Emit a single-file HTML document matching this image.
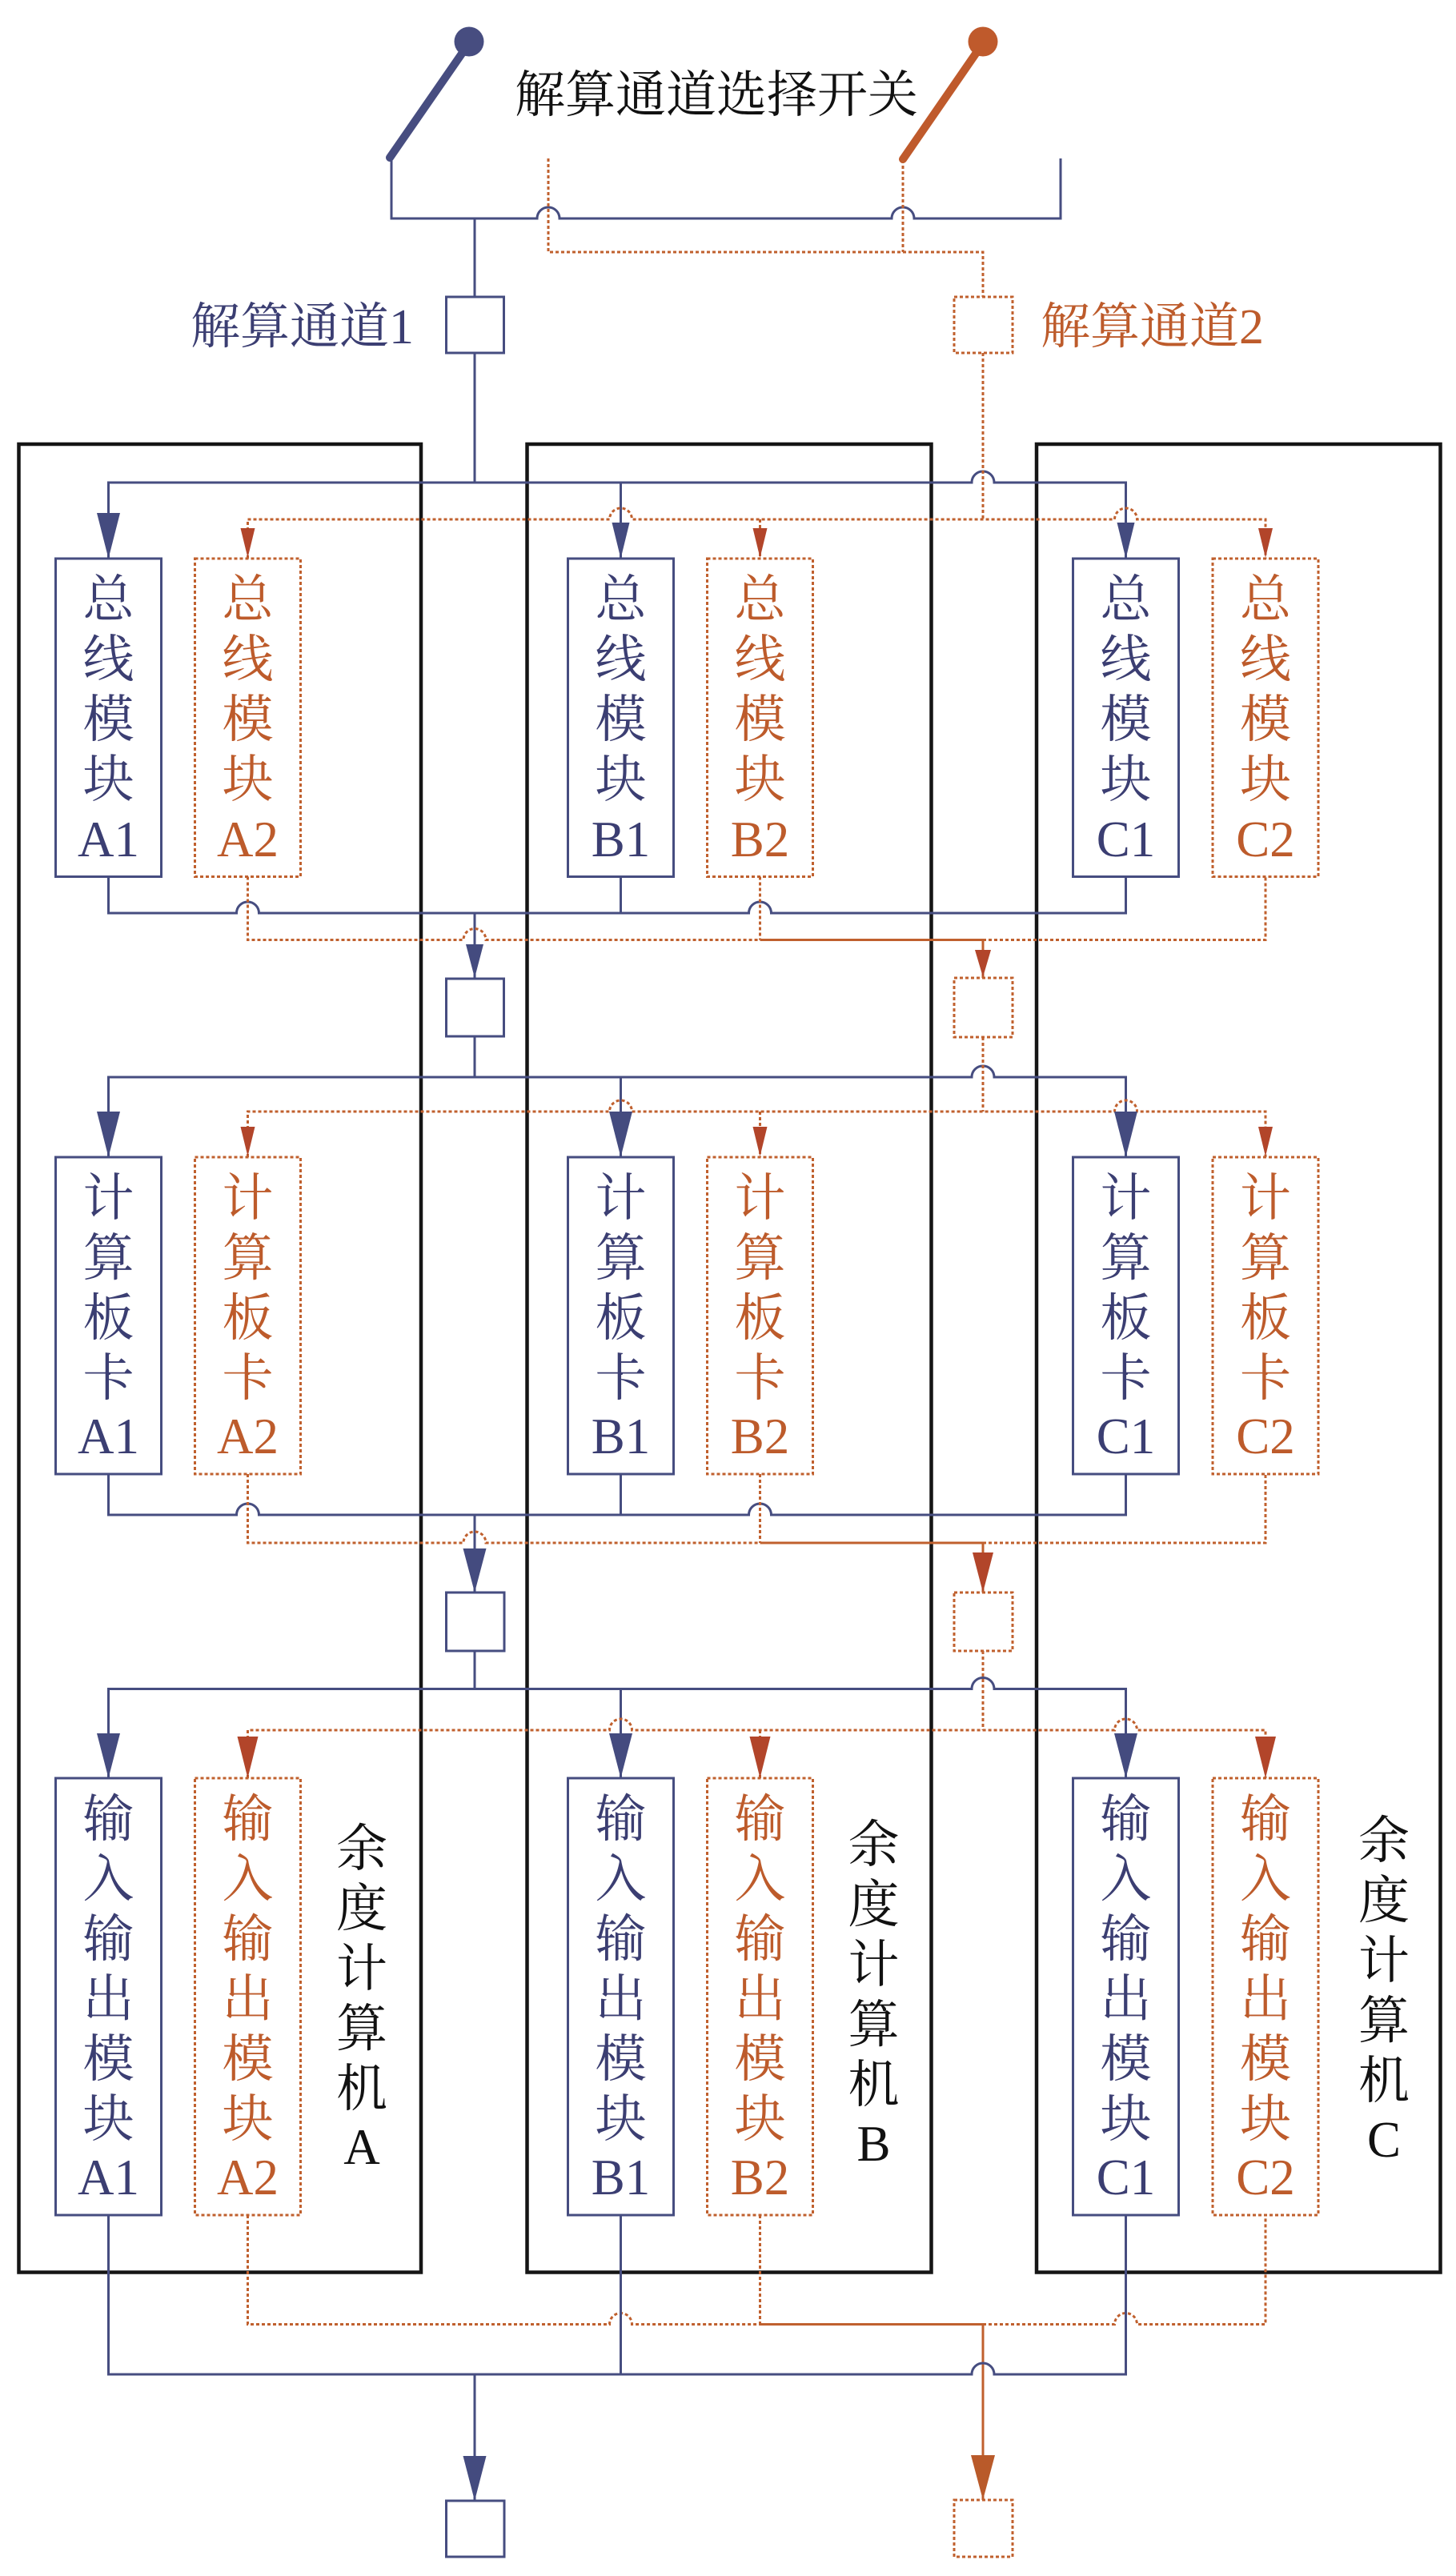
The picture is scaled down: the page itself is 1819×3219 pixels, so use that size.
<!DOCTYPE html>
<html><head><meta charset="utf-8"><style>
html,body{margin:0;padding:0;background:#fff;}
svg{display:block;}
.k{stroke:#151515;stroke-width:4.5;fill:none;}
.b{stroke:#464d80;stroke-width:3;fill:none;}
.o{stroke:#c0602e;stroke-width:3;fill:none;stroke-dasharray:4 3;}
.os{stroke:#c0602e;stroke-width:3;fill:none;}
.ab{fill:#444b7f;}
.ao{fill:#b2452a;}
.tb{fill:#3b3e72;}
.to{fill:#bd5b2b;}
.tk{fill:#111;}
text{font-family:"Liberation Serif","Noto Serif CJK SC",serif;}
.cj{font-size:64px;text-anchor:middle;}
.lt{font-size:63px;text-anchor:middle;}
</style></head><body>
<svg width="1819" height="3219" viewBox="0 0 1819 3219" xmlns="http://www.w3.org/2000/svg">
<rect x="0" y="0" width="1819" height="3219" fill="#fff"/>

<!-- outer computer boxes -->
<rect class="k" x="23.5" y="555" width="502.5" height="2284.5"/>
<rect class="k" x="658.5" y="555" width="505" height="2284.5"/>
<rect class="k" x="1295" y="555" width="504.5" height="2284.5"/>

<!-- switch -->
<line x1="487" y1="197" x2="586" y2="54" stroke="#474d80" stroke-width="10" stroke-linecap="round"/>
<circle cx="586" cy="52" r="18.5" fill="#474d80"/>
<line x1="1128" y1="199" x2="1228" y2="54" stroke="#bf5a2c" stroke-width="10" stroke-linecap="round"/>
<circle cx="1228" cy="52" r="18.5" fill="#bf5a2c"/>
<text x="643" y="140" style="font-size:63px" class="tk">解算通道选择开关</text>

<path class="b" d="M489 198 V273 H671 A14 14 0 0 1 699 273 H1114 A14 14 0 0 1 1142 273 H1325 V198"/>
<path class="o" d="M685 198 V315 H1228 V371"/>
<path class="o" d="M1128 200 V315"/>

<!-- channel 1/2 boxes -->
<path class="b" d="M593 273 V371"/>
<rect class="b" x="557.5" y="371" width="72" height="70"/>
<rect class="o" x="1192" y="371" width="73" height="70"/>
<text x="238" y="429" style="font-size:62px" class="tb">解算通道1</text>
<text x="1300" y="429" style="font-size:62px" class="to">解算通道2</text>

<!-- ROW 1 feeds -->
<path class="b" d="M593 441 V603"/>
<path class="b" d="M135.5 698 V603 H1214 A14 14 0 0 1 1242 603 H1406.5 V698"/>
<path class="b" d="M775.5 603 V698"/>
<path class="o" d="M1228 441 V649"/>
<path class="o" d="M309.5 698 V649 H761.5 A14 14 0 0 1 789.5 649 H1392.5 A14 14 0 0 1 1420.5 649 H1581 V698"/>
<path class="o" d="M949.5 649 V698"/>
<polygon class="ab" points="121,641 150,641 135.5,698"/>
<polygon class="ab" points="764.5,653 786.5,653 775.5,698"/>
<polygon class="ab" points="1395.5,653 1417.5,653 1406.5,698"/>
<polygon class="ao" points="300.5,660 318.5,660 309.5,697"/>
<polygon class="ao" points="940.5,660 958.5,660 949.5,697"/>
<polygon class="ao" points="1572,660 1590,660 1581,697"/>

<!-- ROW 1 boxes -->
<rect class="b" x="69.5" y="698" width="132" height="397.5"/>
<rect class="o" x="243.5" y="698" width="132" height="397.5"/>
<rect class="b" x="709.5" y="698" width="132" height="397.5"/>
<rect class="o" x="883.5" y="698" width="132" height="397.5"/>
<rect class="b" x="1340.5" y="698" width="132" height="397.5"/>
<rect class="o" x="1515" y="698" width="132" height="397.5"/>

<g class="tb">
<text class="cj" x="135.5" y="771">总</text><text class="cj" x="135.5" y="846">线</text><text class="cj" x="135.5" y="921">模</text><text class="cj" x="135.5" y="996">块</text><text class="lt" x="135.5" y="1070">A1</text>
<text class="cj" x="775.5" y="771">总</text><text class="cj" x="775.5" y="846">线</text><text class="cj" x="775.5" y="921">模</text><text class="cj" x="775.5" y="996">块</text><text class="lt" x="775.5" y="1070">B1</text>
<text class="cj" x="1406.5" y="771">总</text><text class="cj" x="1406.5" y="846">线</text><text class="cj" x="1406.5" y="921">模</text><text class="cj" x="1406.5" y="996">块</text><text class="lt" x="1406.5" y="1070">C1</text>
</g>
<g class="to">
<text class="cj" x="309.5" y="771">总</text><text class="cj" x="309.5" y="846">线</text><text class="cj" x="309.5" y="921">模</text><text class="cj" x="309.5" y="996">块</text><text class="lt" x="309.5" y="1070">A2</text>
<text class="cj" x="949.5" y="771">总</text><text class="cj" x="949.5" y="846">线</text><text class="cj" x="949.5" y="921">模</text><text class="cj" x="949.5" y="996">块</text><text class="lt" x="949.5" y="1070">B2</text>
<text class="cj" x="1581" y="771">总</text><text class="cj" x="1581" y="846">线</text><text class="cj" x="1581" y="921">模</text><text class="cj" x="1581" y="996">块</text><text class="lt" x="1581" y="1070">C2</text>
</g>

<!-- ROW 1 outputs -->
<path class="b" d="M135.5 1095.5 V1141 H295.5 A14 14 0 0 1 323.5 1141 H935.5 A14 14 0 0 1 963.5 1141 H1406.5 V1095.5"/>
<path class="b" d="M775.5 1095.5 V1141"/>
<path class="b" d="M593 1141 V1222"/>
<polygon class="ab" points="582,1180 604,1180 593,1222"/>
<rect class="b" x="557.5" y="1223" width="72" height="72"/>
<path class="o" d="M309.5 1095.5 V1174.5 H579 A14 14 0 0 1 607 1174.5 H949.5"/>
<path class="o" d="M949.5 1095.5 V1174.5"/>
<path class="o" d="M1228 1174.5 H1581 V1095.5"/>
<path class="os" d="M949.5 1174.5 H1228 V1222"/>
<polygon class="ao" points="1218,1187 1238,1187 1228,1221"/>
<rect class="o" x="1192" y="1222" width="73" height="74"/>

<!-- ROW 2 feeds -->
<path class="b" d="M593 1295 V1346"/>
<path class="b" d="M135.5 1446 V1346 H1214 A14 14 0 0 1 1242 1346 H1406.5 V1446"/>
<path class="b" d="M775.5 1346 V1446"/>
<path class="o" d="M1228 1296 V1389"/>
<path class="o" d="M309.5 1446 V1389 H761.5 A14 14 0 0 1 789.5 1389 H1392.5 A14 14 0 0 1 1420.5 1389 H1581 V1446"/>
<path class="o" d="M949.5 1389 V1446"/>
<polygon class="ab" points="121,1389 150,1389 135.5,1446"/>
<polygon class="ab" points="761,1389 790,1389 775.5,1446"/>
<polygon class="ab" points="1392,1389 1421,1389 1406.5,1446"/>
<polygon class="ao" points="300.5,1408 318.5,1408 309.5,1445"/>
<polygon class="ao" points="940.5,1408 958.5,1408 949.5,1445"/>
<polygon class="ao" points="1572,1408 1590,1408 1581,1445"/>

<!-- ROW 2 boxes -->
<rect class="b" x="69.5" y="1446" width="132" height="396"/>
<rect class="o" x="243.5" y="1446" width="132" height="396"/>
<rect class="b" x="709.5" y="1446" width="132" height="396"/>
<rect class="o" x="883.5" y="1446" width="132" height="396"/>
<rect class="b" x="1340.5" y="1446" width="132" height="396"/>
<rect class="o" x="1515" y="1446" width="132" height="396"/>

<g class="tb">
<text class="cj" x="135.5" y="1519">计</text><text class="cj" x="135.5" y="1594">算</text><text class="cj" x="135.5" y="1669">板</text><text class="cj" x="135.5" y="1744">卡</text><text class="lt" x="135.5" y="1816">A1</text>
<text class="cj" x="775.5" y="1519">计</text><text class="cj" x="775.5" y="1594">算</text><text class="cj" x="775.5" y="1669">板</text><text class="cj" x="775.5" y="1744">卡</text><text class="lt" x="775.5" y="1816">B1</text>
<text class="cj" x="1406.5" y="1519">计</text><text class="cj" x="1406.5" y="1594">算</text><text class="cj" x="1406.5" y="1669">板</text><text class="cj" x="1406.5" y="1744">卡</text><text class="lt" x="1406.5" y="1816">C1</text>
</g>
<g class="to">
<text class="cj" x="309.5" y="1519">计</text><text class="cj" x="309.5" y="1594">算</text><text class="cj" x="309.5" y="1669">板</text><text class="cj" x="309.5" y="1744">卡</text><text class="lt" x="309.5" y="1816">A2</text>
<text class="cj" x="949.5" y="1519">计</text><text class="cj" x="949.5" y="1594">算</text><text class="cj" x="949.5" y="1669">板</text><text class="cj" x="949.5" y="1744">卡</text><text class="lt" x="949.5" y="1816">B2</text>
<text class="cj" x="1581" y="1519">计</text><text class="cj" x="1581" y="1594">算</text><text class="cj" x="1581" y="1669">板</text><text class="cj" x="1581" y="1744">卡</text><text class="lt" x="1581" y="1816">C2</text>
</g>

<!-- ROW 2 outputs -->
<path class="b" d="M135.5 1842 V1893 H295.5 A14 14 0 0 1 323.5 1893 H935.5 A14 14 0 0 1 963.5 1893 H1406.5 V1842"/>
<path class="b" d="M775.5 1842 V1893"/>
<path class="b" d="M593 1893 V1990"/>
<polygon class="ab" points="578.5,1935 607.5,1935 593,1990"/>
<rect class="b" x="557.5" y="1990" width="72.5" height="73"/>
<path class="o" d="M309.5 1842 V1928 H579 A14 14 0 0 1 607 1928 H949.5"/>
<path class="o" d="M949.5 1842 V1928"/>
<path class="o" d="M1228 1928 H1581 V1842"/>
<path class="os" d="M949.5 1928 H1228 V1990"/>
<polygon class="ao" points="1215,1940 1241,1940 1228,1990"/>
<rect class="o" x="1192" y="1990" width="73" height="73"/>

<!-- ROW 3 feeds -->
<path class="b" d="M593 2063 V2110.5"/>
<path class="b" d="M135.5 2222 V2110.5 H1214 A14 14 0 0 1 1242 2110.5 H1406.5 V2222"/>
<path class="b" d="M775.5 2110.5 V2222"/>
<path class="o" d="M1228 2063 V2162"/>
<path class="o" d="M309.5 2222 V2162 H761.5 A14 14 0 0 1 789.5 2162 H1392.5 A14 14 0 0 1 1420.5 2162 H1581 V2222"/>
<path class="o" d="M949.5 2162 V2222"/>
<polygon class="ab" points="121,2166 150,2166 135.5,2222"/>
<polygon class="ab" points="761,2166 790,2166 775.5,2222"/>
<polygon class="ab" points="1392,2166 1421,2166 1406.5,2222"/>
<polygon class="ao" points="296.5,2170 322.5,2170 309.5,2222"/>
<polygon class="ao" points="936.5,2170 962.5,2170 949.5,2222"/>
<polygon class="ao" points="1568,2170 1594,2170 1581,2222"/>

<!-- ROW 3 boxes -->
<rect class="b" x="69.5" y="2222" width="132" height="546"/>
<rect class="o" x="243.5" y="2222" width="132" height="546"/>
<rect class="b" x="709.5" y="2222" width="132" height="546"/>
<rect class="o" x="883.5" y="2222" width="132" height="546"/>
<rect class="b" x="1340.5" y="2222" width="132" height="546"/>
<rect class="o" x="1515" y="2222" width="132" height="546"/>

<g class="tb">
<text class="cj" x="135.5" y="2295">输</text><text class="cj" x="135.5" y="2370">入</text><text class="cj" x="135.5" y="2445">输</text><text class="cj" x="135.5" y="2520">出</text><text class="cj" x="135.5" y="2595">模</text><text class="cj" x="135.5" y="2670">块</text><text class="lt" x="135.5" y="2742">A1</text>
<text class="cj" x="775.5" y="2295">输</text><text class="cj" x="775.5" y="2370">入</text><text class="cj" x="775.5" y="2445">输</text><text class="cj" x="775.5" y="2520">出</text><text class="cj" x="775.5" y="2595">模</text><text class="cj" x="775.5" y="2670">块</text><text class="lt" x="775.5" y="2742">B1</text>
<text class="cj" x="1406.5" y="2295">输</text><text class="cj" x="1406.5" y="2370">入</text><text class="cj" x="1406.5" y="2445">输</text><text class="cj" x="1406.5" y="2520">出</text><text class="cj" x="1406.5" y="2595">模</text><text class="cj" x="1406.5" y="2670">块</text><text class="lt" x="1406.5" y="2742">C1</text>
</g>
<g class="to">
<text class="cj" x="309.5" y="2295">输</text><text class="cj" x="309.5" y="2370">入</text><text class="cj" x="309.5" y="2445">输</text><text class="cj" x="309.5" y="2520">出</text><text class="cj" x="309.5" y="2595">模</text><text class="cj" x="309.5" y="2670">块</text><text class="lt" x="309.5" y="2742">A2</text>
<text class="cj" x="949.5" y="2295">输</text><text class="cj" x="949.5" y="2370">入</text><text class="cj" x="949.5" y="2445">输</text><text class="cj" x="949.5" y="2520">出</text><text class="cj" x="949.5" y="2595">模</text><text class="cj" x="949.5" y="2670">块</text><text class="lt" x="949.5" y="2742">B2</text>
<text class="cj" x="1581" y="2295">输</text><text class="cj" x="1581" y="2370">入</text><text class="cj" x="1581" y="2445">输</text><text class="cj" x="1581" y="2520">出</text><text class="cj" x="1581" y="2595">模</text><text class="cj" x="1581" y="2670">块</text><text class="lt" x="1581" y="2742">C2</text>
</g>

<!-- computer labels -->
<g class="tk">
<text class="cj" x="452" y="2332">余</text><text class="cj" x="452" y="2407">度</text><text class="cj" x="452" y="2482">计</text><text class="cj" x="452" y="2557">算</text><text class="cj" x="452" y="2632">机</text><text class="lt" x="452" y="2704">A</text>
<text class="cj" x="1091.5" y="2327">余</text><text class="cj" x="1091.5" y="2402">度</text><text class="cj" x="1091.5" y="2477">计</text><text class="cj" x="1091.5" y="2552">算</text><text class="cj" x="1091.5" y="2627">机</text><text class="lt" x="1091.5" y="2700">B</text>
<text class="cj" x="1729" y="2322">余</text><text class="cj" x="1729" y="2397">度</text><text class="cj" x="1729" y="2472">计</text><text class="cj" x="1729" y="2547">算</text><text class="cj" x="1729" y="2622">机</text><text class="lt" x="1729" y="2695">C</text>
</g>

<!-- ROW 3 outputs -->
<path class="o" d="M309.5 2768 V2904.5 H761.5 A14 14 0 0 1 789.5 2904.5 H949.5"/>
<path class="o" d="M949.5 2768 V2904.5"/>
<path class="o" d="M1228 2904.5 H1392.5 A14 14 0 0 1 1420.5 2904.5 H1581 V2768"/>
<path class="os" d="M949.5 2904.5 H1228 V3124"/>
<path class="b" d="M135.5 2768 V2967 H1214 A14 14 0 0 1 1242 2967 H1406.5 V2768"/>
<path class="b" d="M775.5 2768 V2967"/>
<path class="b" d="M593 2967 V3125"/>
<polygon class="ab" points="578.5,3069 607.5,3069 593,3125"/>
<rect class="b" x="557.5" y="3125" width="72.5" height="70"/>
<polygon points="1213,3068 1243,3068 1228,3124" fill="#b95a2a"/>
<rect class="o" x="1192" y="3124" width="73" height="71"/>
</svg>
</body></html>
